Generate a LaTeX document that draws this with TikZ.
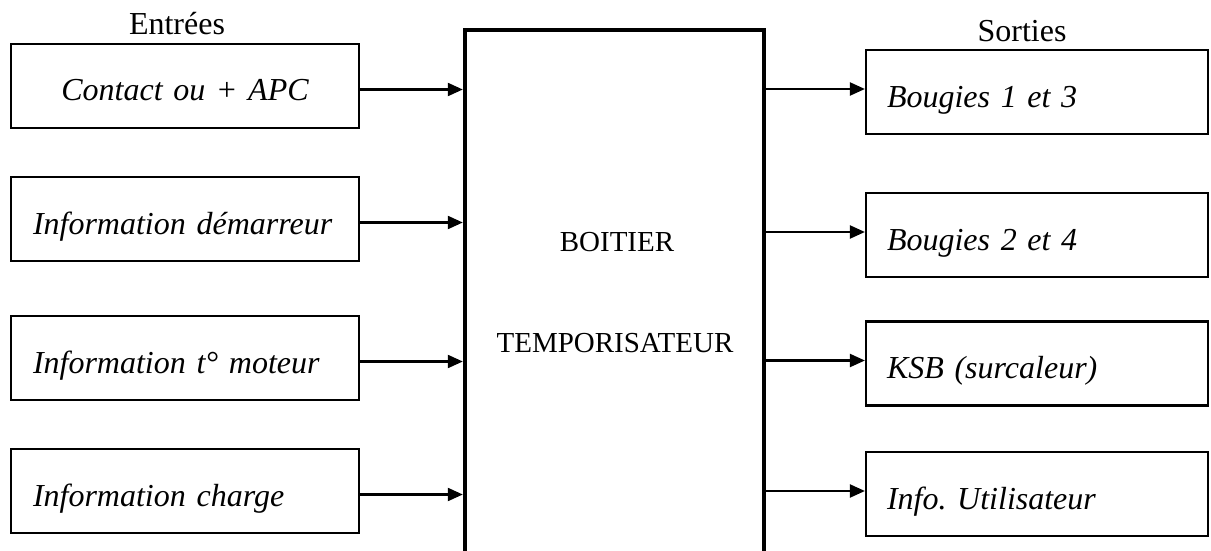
\documentclass[tikz,border=0pt]{standalone}
\usepackage{fontspec}
\setmainfont{Liberation Serif}
\usetikzlibrary{arrows.meta}
\frenchspacing
\begin{document}
\begin{tikzpicture}[x=1pt,y=-1pt,
  boxtxt/.style={font=\fontsize{32}{36}\selectfont\itshape\frenchspacing, text height=30pt, text depth=0pt},
  inbox/.style={draw, line width=2.2pt, boxtxt, inner ysep=0pt, inner xsep=22pt,
    text width=304pt, align=left, minimum height=84pt},
  outbox/.style={draw, line width=2.2pt, boxtxt, inner ysep=0pt, inner xsep=21pt,
    text width=300pt, align=left, minimum height=84pt},
  head/.style={anchor=base, font=\fontsize{32}{36}\selectfont},
  bigtxt/.style={anchor=base, font=\fontsize{29}{34}\selectfont},
  arr/.style={line width=2.2pt, -{Triangle[length=15pt,width=13pt]}}
]
\useasboundingbox (0,0) rectangle (1211,551);

% central box
\node[minimum width=299pt, minimum height=523pt, inner sep=0pt] (big) at (614.5,291.5) {};
\draw[line width=4pt] (big.south west) -- (big.north west) -- (big.north east) -- (big.south east);
\node[bigtxt] (t1) at (617,251) {BOITIER};
\node[bigtxt] (t2) at (615,352) {TEMPORISATEUR};

% headers
\node[head] (hin) at (177,35) {Entrées};
\node[head] (hout) at (1022,42) {Sorties};

% inputs
\node[inbox, align=center] (l1) at (185,86) {Contact ou + APC};
\node[inbox] (l2) at (185,219) {Information démarreur};
\node[inbox] (l3) at (185,358) {Information t° moteur};
\node[inbox] (l4) at (185,491) {Information charge};

% outputs
\node[outbox] (r1) at (1037,92) {Bougies 1 et 3};
\node[outbox] (r2) at (1037,235) {Bougies 2 et 4};
\node[outbox] (r3) at (1037,363.5) {KSB (surcaleur)};
\node[outbox] (r4) at (1037,494) {Info. Utilisateur};

% connectors
\foreach \n in {l1,l2,l3,l4}{
  \draw[arr, shorten >=2pt] ([yshift=-3.5pt]\n.east) -- ([yshift=-3.5pt]\n.east -| big.west);
}
\foreach \n in {r1,r2,r3,r4}{
  \draw[arr] ([yshift=3pt]\n.west -| big.east) -- ([yshift=3pt]\n.west);
}
\end{tikzpicture}
\end{document}
